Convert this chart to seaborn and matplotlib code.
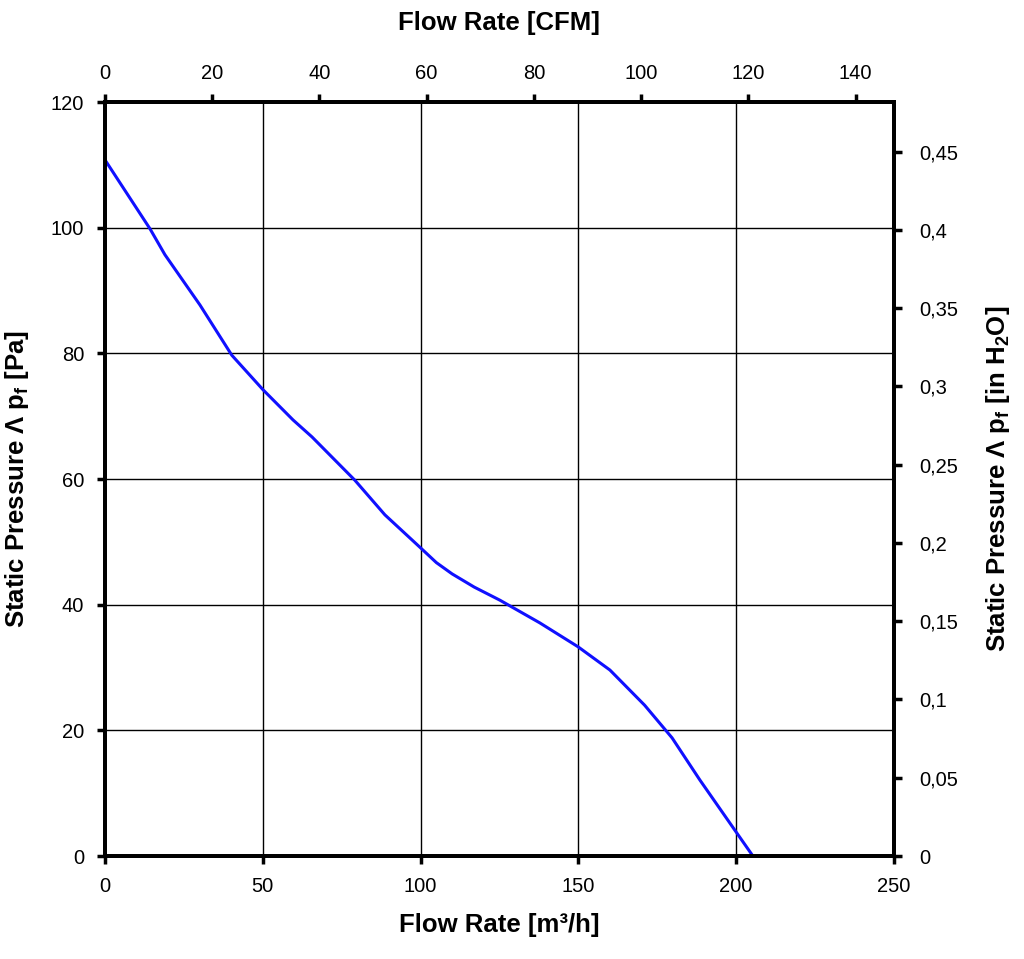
import matplotlib
matplotlib.use("Agg")
import matplotlib.pyplot as plt
import seaborn as sns
import pandas as pd
import numpy as np

flow_m3h = [0, 14.3, 19, 30.1, 40.2, 50.1, 59.6, 65.6, 79.2, 88.7, 100.1, 105, 110, 117, 125.2,
            137.8, 149.9, 160, 171, 179.7, 188.5, 199.6, 205.3]
pressure_pa = [110.8, 99.8, 95.7, 87.7, 79.7, 74.2, 69.4, 66.7, 59.8, 54.3, 49.0, 46.7, 44.9, 42.8, 40.7,
               37.1, 33.3, 29.6, 24.0, 18.8, 12.1, 4.1, 0.0]

x_ticks = [0, 50, 100, 150, 200, 250]
y_ticks = [0, 20, 40, 60, 80, 100, 120]
cfm_ticks = [0, 20, 40, 60, 80, 100, 120, 140]
inh2o_ticks = [0, 0.05, 0.1, 0.15, 0.2, 0.25, 0.3, 0.35, 0.4, 0.45]
inh2o_labels = ["0", "0,05", "0,1", "0,15", "0,2", "0,25", "0,3", "0,35", "0,4", "0,45"]

M3H_PER_CFM = 1.699
PA_PER_INH2O = 249.09

sns.set_style("white")
plt.rcParams['font.family'] = ['Liberation Sans', 'DejaVu Sans']
plt.rcParams['mathtext.default'] = 'regular'
plt.rcParams['text.color'] = 'black'
plt.rcParams['axes.labelcolor'] = 'black'
plt.rcParams['axes.edgecolor'] = 'black'
plt.rcParams['xtick.color'] = 'black'
plt.rcParams['ytick.color'] = 'black'

df = pd.DataFrame({"flow": flow_m3h, "pressure": pressure_pa})

fig = plt.figure(figsize=(10.24, 9.59), dpi=100)
ax = fig.add_axes([0.1025, 0.1074, 0.7705, 0.7862])
sns.lineplot(data=df, x="flow", y="pressure", ax=ax, color="#1010ff", linewidth=2.2)

TL = 14.5
LBL = 18.5
ax.set_xlim(0, 250)
ax.set_ylim(0, 120)
ax.set_xticks(x_ticks)
ax.set_yticks(y_ticks)
ax.grid(True, color="black", linewidth=1.0)
for s in ax.spines.values():
    s.set_linewidth(2.6)
    s.set_color("black")
ax.tick_params(axis="both", direction="out", length=6, width=2.5, labelsize=TL, pad=9)
ax.set_xlabel("Flow Rate [m³/h]", fontsize=LBL, fontweight="bold", labelpad=12)
ax.set_ylabel("Static Pressure Λ p$_f$ [Pa]", fontsize=LBL, fontweight="bold", labelpad=14)

# top axis (CFM)
axt = ax.twiny()
axt.set_xlim(0, 250 / M3H_PER_CFM)
axt.set_xticks(cfm_ticks)
axt.tick_params(axis="x", direction="out", length=6, width=2.5, labelsize=TL, pad=8)
axt.set_xlabel("Flow Rate [CFM]", fontsize=LBL, fontweight="bold", labelpad=24)
for s in axt.spines.values():
    s.set_linewidth(2.6)
    s.set_color("black")

# right axis (in H2O)
axr = ax.twinx()
axr.set_ylim(0, 120 / PA_PER_INH2O)
axr.set_yticks(inh2o_ticks)
axr.set_yticklabels(inh2o_labels)
axr.tick_params(axis="y", direction="out", length=6, width=2.5, labelsize=TL, pad=12)
axr.set_ylabel("Static Pressure Λ p$_f$ [in H$_2$O]", fontsize=LBL, fontweight="bold",
               labelpad=19)
for s in axr.spines.values():
    s.set_linewidth(2.6)
    s.set_color("black")

fig.savefig("out.png", dpi=100, facecolor="white")
